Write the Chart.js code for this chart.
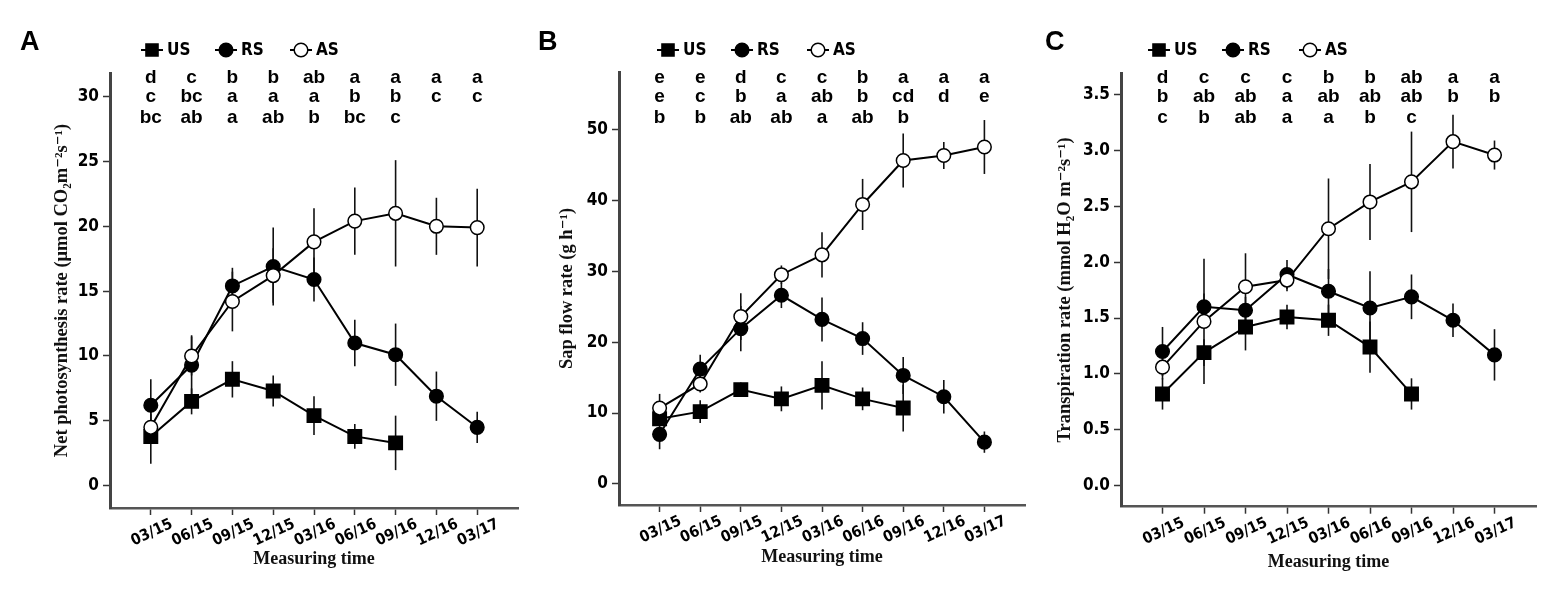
<!DOCTYPE html>
<html>
<head>
<meta charset="utf-8">
<script src="https://cdn.jsdelivr.net/npm/chart.js@4.4.0/dist/chart.umd.min.js"></script>
<style>
  body { margin: 0; background: #fff; }
  #wrap { position: relative; width: 1562px; height: 592px; }
  canvas { position: absolute; top: 0; }
</style>
</head>
<body>
<div id="wrap">
  <canvas id="cA" width="520" height="592" style="left:0px"></canvas>
  <canvas id="cB" width="520" height="592" style="left:520px"></canvas>
  <canvas id="cC" width="522" height="592" style="left:1040px"></canvas>
</div>
<script>
const dates = ['03/15', '06/15', '09/15', '12/15', '03/16', '06/16', '09/16', '12/16', '03/17']
const seriesNames = ['US', 'RS', 'AS']

// A - net photosynthesis rate
const npUS = [3.8, 6.5, 8.2, 7.3, 5.4, 3.8, 3.3]
const npUSErr = [2.1, 1.0, 1.4, 1.2, 1.5, 0.95, 2.1]
const npRS = [6.2, 9.3, 15.4, 16.9, 15.9, 11.0, 10.1, 6.9, 4.5]
const npRSErr = [2.0, 2.3, 1.4, 3.0, 1.7, 1.8, 2.4, 1.9, 1.2]
const npAS = [4.5, 10.0, 14.2, 16.2, 18.8, 20.4, 21.0, 20.0, 19.9]
const npASErr = [1.0, 1.5, 2.3, 2.1, 2.6, 2.6, 4.1, 2.2, 3.0]
const npTicks = [0, 5, 10, 15, 20, 25, 30]
const npLetters = [
  ['d', 'c', 'b', 'b', 'ab', 'a', 'a', 'a', 'a'],
  ['c', 'bc', 'a', 'a', 'a', 'b', 'b', 'c', 'c'],
  ['bc', 'ab', 'a', 'ab', 'b', 'bc', 'c'],
]

// B - sap flow rate
const sfUS = [9.2, 10.2, 13.3, 12.0, 13.9, 12.0, 10.7]
const sfUSErr = [1.0, 1.6, 1.0, 1.75, 3.4, 1.6, 3.3]
const sfRS = [7.0, 16.2, 21.9, 26.6, 23.2, 20.5, 15.3, 12.3, 5.9]
const sfRSErr = [2.1, 2.0, 3.2, 1.8, 3.1, 2.3, 2.6, 2.35, 1.5]
const sfAS = [10.7, 14.1, 23.6, 29.5, 32.3, 39.4, 45.6, 46.3, 47.5]
const sfASErr = [2.0, 1.2, 3.3, 1.3, 3.2, 3.6, 3.8, 1.9, 3.8]
const sfTicks = [0, 10, 20, 30, 40, 50]
const sfLetters = [
  ['e', 'e', 'd', 'c', 'c', 'b', 'a', 'a', 'a'],
  ['e', 'c', 'b', 'a', 'ab', 'b', 'cd', 'd', 'e'],
  ['b', 'b', 'ab', 'ab', 'a', 'ab', 'b'],
]

// C - transpiration rate
const trUS = [0.82, 1.19, 1.42, 1.51, 1.48, 1.24, 0.82]
const trUSErr = [0.14, 0.12, 0.21, 0.11, 0.14, 0.23, 0.14]
const trRS = [1.20, 1.60, 1.57, 1.89, 1.74, 1.59, 1.69, 1.48, 1.17]
const trRSErr = [0.22, 0.12, 0.12, 0.13, 0.2, 0.33, 0.2, 0.15, 0.23]
const trAS = [1.06, 1.47, 1.78, 1.84, 2.30, 2.54, 2.72, 3.08, 2.96]
const trASErr = [0.11, 0.56, 0.3, 0.1, 0.45, 0.34, 0.45, 0.24, 0.13]
const trTicks = [0, 0.5, 1.0, 1.5, 2.0, 2.5, 3.0, 3.5]
const trLetters = [
  ['d', 'c', 'c', 'c', 'b', 'b', 'ab', 'a', 'a'],
  ['b', 'ab', 'ab', 'a', 'ab', 'ab', 'ab', 'b', 'b'],
  ['c', 'b', 'ab', 'a', 'a', 'b', 'c'],
]

const narrow = '"Liberation Sans Narrow", "DejaVu Sans Condensed", "Liberation Sans", sans-serif'
const serif = '"Liberation Serif", "DejaVu Serif", serif'
const arial = '"Liberation Sans", Arial, sans-serif'

const styles = {
  US: { pointStyle: 'rect', pointRadius: 9.5, pointBackgroundColor: '#000', order: 2 },
  RS: { pointStyle: 'circle', pointRadius: 6.8, pointBackgroundColor: '#000', order: 1 },
  AS: { pointStyle: 'circle', pointRadius: 6.8, pointBackgroundColor: '#fff', order: 0 },
}

// barras de error, sin remates, debajo de los puntos
const errorBars = {
  id: 'errorBars',
  beforeDatasetsDraw(chart) {
    const { ctx, scales: { x, y } } = chart
    ctx.save()
    ctx.strokeStyle = '#111'
    ctx.lineWidth = 1.6
    chart.data.datasets.forEach((ds) => {
      ds.data.forEach((p, i) => {
        const e = ds.err[i]
        const px = x.getPixelForValue(p.x)
        ctx.beginPath()
        ctx.moveTo(px, y.getPixelForValue(p.y - e))
        ctx.lineTo(px, y.getPixelForValue(p.y + e))
        ctx.stroke()
      })
    })
    ctx.restore()
  },
}

const drawMarker = (ctx, style, cx, cy) => {
  ctx.fillStyle = style.pointBackgroundColor
  ctx.strokeStyle = '#000'
  ctx.lineWidth = 1.5
  ctx.beginPath()
  if (style.pointStyle === 'rect') {
    const s = style.pointRadius * Math.SQRT1_2 * 0.9
    ctx.rect(cx - s, cy - s, 2 * s, 2 * s)
  } else {
    ctx.arc(cx, cy, style.pointRadius, 0, Math.PI * 2)
  }
  ctx.fill()
  ctx.stroke()
}

// letra del panel, leyenda y letras de significancia
const extras = {
  id: 'extras',
  afterDraw(chart, args, opts) {
    const { ctx, chartArea, scales: { x } } = chart
    ctx.save()
    ctx.fillStyle = '#000'
    ctx.font = 'bold 27px ' + arial
    ctx.textAlign = 'left'
    ctx.textBaseline = 'alphabetic'
    ctx.fillText(opts.panel, opts.panelX, 50)

    seriesNames.forEach((name, k) => {
      const cx = chartArea.left + opts.legendX[k]
      const cy = 50
      ctx.strokeStyle = '#000'
      ctx.lineWidth = 2
      ctx.beginPath()
      ctx.moveTo(cx - 11, cy)
      ctx.lineTo(cx + 11, cy)
      ctx.stroke()
      drawMarker(ctx, styles[name], cx, cy)
      ctx.fillStyle = '#000'
      ctx.font = 'bold 17px ' + narrow
      ctx.textAlign = 'left'
      ctx.textBaseline = 'middle'
      ctx.fillText(name, cx + 15, cy + 1)
    })

    ctx.font = 'bold 19px ' + arial
    ctx.textAlign = 'center'
    ctx.textBaseline = 'alphabetic'
    const rowY = [82.5, 102, 123]
    opts.letters.forEach((row, r) => {
      row.forEach((t, i) => {
        ctx.fillText(t, x.getPixelForValue(i), rowY[r])
      })
    })
    ctx.restore()
  },
}

const makePanel = (id, cfg) => {
  const values = [cfg.us, cfg.rs, cfg.as]
  const errs = [cfg.usErr, cfg.rsErr, cfg.asErr]
  const datasets = seriesNames.map((name, k) => ({
    label: name,
    data: values[k].map((v, i) => ({ x: i, y: v })),
    err: errs[k],
    borderColor: '#000',
    borderWidth: 2,
    pointBorderColor: '#000',
    pointBorderWidth: 1.5,
    tension: 0,
    ...styles[name],
  }))
  const ctx = document.getElementById(id).getContext('2d')
  return new Chart(ctx, {
    type: 'line',
    data: { datasets },
    plugins: [errorBars, extras],
    options: {
      responsive: false,
      animation: false,
      layout: { autoPadding: false, padding: cfg.padding },
      plugins: {
        legend: { display: false },
        tooltip: { enabled: false },
        extras: { panel: cfg.panel, panelX: cfg.panelX, legendX: cfg.legendX, letters: cfg.letters },
      },
      scales: {
        x: {
          type: 'linear',
          min: -1,
          max: 9,
          afterBuildTicks: (s) => { s.ticks = dates.map((d, i) => ({ value: i })) },
          afterFit: (s) => { s.height = cfg.xH },
          ticks: {
            callback: (v) => dates[v],
            minRotation: 25,
            maxRotation: 25,
            labelOffset: 21,
            padding: 0,
            autoSkip: false,
            color: '#000',
            font: { family: narrow, size: 15.5, weight: 'bold' },
          },
          grid: { drawOnChartArea: false, tickLength: 7, tickColor: '#333', tickWidth: 1.5 },
          border: { color: '#555', width: 2.5 },
          title: {
            display: true,
            text: 'Measuring time',
            color: '#111',
            padding: 0,
            font: { family: serif, size: 18, weight: 'bold' },
          },
        },
        y: {
          min: cfg.yMin,
          max: cfg.yMax,
          afterBuildTicks: (s) => { s.ticks = cfg.ticks.map((v) => ({ value: v })) },
          afterFit: (s) => { s.width = cfg.yW },
          ticks: {
            callback: cfg.fmt,
            padding: 4,
            color: '#000',
            font: { family: narrow, size: 17, weight: 'bold' },
          },
          grid: { drawOnChartArea: false, tickLength: 7, tickColor: '#333', tickWidth: 1.5 },
          border: { color: '#444', width: 3 },
          title: {
            display: true,
            text: cfg.yTitle,
            color: '#111',
            padding: 0,
            font: { family: serif, size: 18.5, weight: 'bold' },
          },
        },
      },
    },
  })
}

makePanel('cA', {
  panel: 'A', panelX: 20,
  us: npUS, usErr: npUSErr, rs: npRS, rsErr: npRSErr, as: npAS, asErr: npASErr,
  ticks: npTicks, letters: npLetters, fmt: (v) => String(v),
  yMin: -1.72, yMax: 31.82,
  yTitle: 'Net photosynthesis rate (μmol CO₂m⁻²s⁻¹)',
  padding: { left: 51, top: 73, right: 2, bottom: 22 }, yW: 59, xH: 62,
  legendX: [42, 116, 191],
})

makePanel('cB', {
  panel: 'B', panelX: 18,
  us: sfUS, usErr: sfUSErr, rs: sfRS, rsErr: sfRSErr, as: sfAS, asErr: sfASErr,
  ticks: sfTicks, letters: sfLetters, fmt: (v) => String(v),
  yMin: -2.96, yMax: 58.07,
  yTitle: 'Sap flow rate (g h⁻¹)',
  padding: { left: 36, top: 72, right: 15, bottom: 23.5 }, yW: 63, xH: 63.5,
  legendX: [49, 123, 199],
})

makePanel('cC', {
  panel: 'C', panelX: 5,
  us: trUS, usErr: trUSErr, rs: trRS, rsErr: trRSErr, as: trAS, asErr: trASErr,
  ticks: trTicks, letters: trLetters, fmt: (v) => v.toFixed(1),
  yMin: -0.19, yMax: 3.695,
  yTitle: 'Transpiration rate (mmol H₂O m⁻²s⁻¹)',
  padding: { left: 14, top: 73, right: 26, bottom: 19 }, yW: 67, xH: 66.3,
  legendX: [38, 112, 189],
})
</script>
</body>
</html>
